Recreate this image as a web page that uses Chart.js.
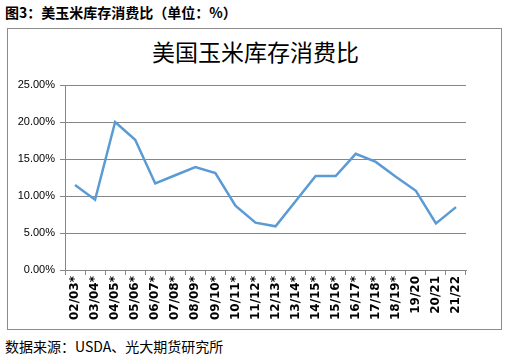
<!DOCTYPE html>
<html><head><meta charset="utf-8">
<script src="https://cdn.jsdelivr.net/npm/chart.js@4"></script>
<style>
html,body{margin:0;padding:0;background:#fff;}
body{width:511px;height:356px;position:relative;overflow:hidden;font-family:"Noto Sans CJK SC","Liberation Sans",sans-serif;}
#cap{position:absolute;left:5px;top:2px;font-size:14px;font-weight:bold;color:#000;line-height:20px;white-space:nowrap;}
#frame{position:absolute;left:7px;top:28px;width:493px;height:300px;border:1px solid #8c8c8c;}
#title{position:absolute;left:0;width:511px;top:36px;text-align:center;font-size:23px;color:#000;line-height:30px;}
#wrap{position:absolute;left:7px;top:28px;width:495px;height:302px;}
#src{position:absolute;left:5px;top:336px;font-size:14px;color:#000;line-height:20px;white-space:nowrap;}
</style></head>
<body>
<div id="cap">图3：美玉米库存消费比（单位：%）</div>
<div id="frame"></div>
<div id="title">美国玉米库存消费比</div>
<div id="wrap"><canvas id="c" width="495" height="302"></canvas></div>
<div id="src">数据来源：USDA、光大期货研究所</div>
<script>
const categories = ["02/03*","03/04*","04/05*","05/06*","06/07*","07/08*","08/09*","09/10*","10/11*","11/12*","12/13*","13/14*","14/15*","15/16*","16/17*","17/18*","18/19*","19/20","20/21","21/22"];
const ratioValues = [11.5,9.5,20.0,17.6,11.7,12.8,13.9,13.1,8.7,6.4,5.9,9.3,12.7,12.7,15.7,14.6,12.6,10.7,6.3,8.5];
const yTicks = [0,5,10,15,20,25];

const gridColor = '#868686';
new Chart(document.getElementById('c'), {
  type: 'line',
  data: {
    labels: categories,
    datasets: [{
      data: ratioValues,
      borderColor: '#5B9BD5',
      borderWidth: 2.5,
      pointRadius: 0,
      tension: 0,
      fill: false
    }]
  },
  options: {
    responsive: false,
    animation: false,
    events: [],
    layout: { padding: { top: 57, right: 36, bottom: 0, left: 0 } },
    plugins: { legend: { display: false }, tooltip: { enabled: false }, title: { display: false } },
    scales: {
      x: {
        offset: true,
        grid: { display: true, drawOnChartArea: false, offset: true, tickLength: 5, color: gridColor, lineWidth: 1 },
        border: { display: true, color: gridColor, width: 1 },
        ticks: {
          minRotation: 90, maxRotation: 90, autoSkip: false, padding: 1,
          color: '#000',
          font: { family: 'DejaVu Sans', size: 12, weight: 'bold' }
        },
        afterFit: (s) => { s.height = 60; }
      },
      y: {
        min: 0, max: 25,
        afterBuildTicks: (s) => { s.ticks = yTicks.map(v => ({ value: v })); },
        grid: { color: gridColor, lineWidth: 1, tickLength: 5 },
        border: { display: true, color: gridColor, width: 1 },
        ticks: {
          padding: 5,
          color: '#000',
          font: { family: 'Liberation Sans', size: 11 },
          callback: (v) => Number(v).toFixed(2) + '%'
        },
        afterFit: (s) => { s.width = 58; }
      }
    }
  }
});
</script>
</body></html>
